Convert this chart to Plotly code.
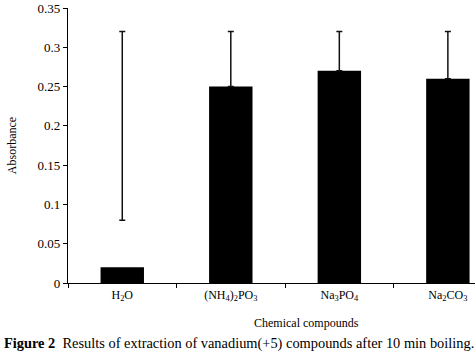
import plotly.graph_objects as go

categories = ["H<sub>2</sub>O", "(NH<sub>4</sub>)<sub>2</sub>PO<sub>3</sub>", "Na<sub>3</sub>PO<sub>4</sub>", "Na<sub>2</sub>CO<sub>3</sub>"]
absorbance = [0.02, 0.25, 0.27, 0.26]
err_plus = [0.30, 0.07, 0.05, 0.06]
err_minus = [-0.06, 0, 0, 0]
y_ticks = [0, 0.05, 0.1, 0.15, 0.2, 0.25, 0.3, 0.35]

font_family = "Liberation Serif"

fig = go.Figure()
fig.add_trace(go.Bar(
    x=categories, y=absorbance,
    marker=dict(color="black", line=dict(width=0)),
    width=0.4,
    error_y=dict(type="data", symmetric=False, array=err_plus, arrayminus=err_minus,
                 color="#111", thickness=1.5, width=3),
))

fig.update_layout(
    width=475, height=357,
    margin=dict(l=68, r=0, t=8, b=74),
    plot_bgcolor="white", paper_bgcolor="white",
    showlegend=False,
    font=dict(family=font_family, size=12, color="black"),
    xaxis=dict(
        type="category", tickson="boundaries", ticks="outside", ticklen=4,
        tickcolor="black", showline=True, linecolor="black", linewidth=1.2,
        showgrid=False, range=[-0.5, 3.25], tickfont=dict(size=12),
    ),
    yaxis=dict(
        range=[0, 0.35], tickvals=y_ticks, ticks="outside", ticklen=4,
        tickcolor="black", showline=True, linecolor="black", linewidth=1.2,
        showgrid=False, zeroline=False, tickfont=dict(size=13),
        ticklabeloverflow="allow",
        title=dict(text="Absorbance", font=dict(size=12), standoff=18),
    ),
    annotations=[
        dict(text="Chemical compounds", xref="paper", yref="paper", x=0.587, y=-0.145,
             xanchor="center", yanchor="middle", showarrow=False, font=dict(size=12)),
        dict(text="<b>Figure 2</b>  Results of extraction of vanadium(+5) compounds after 10 min boiling.",
             xref="paper", yref="paper", x=-0.163, y=-0.22, xanchor="left", yanchor="middle",
             showarrow=False, font=dict(size=14.4, family="Liberation Serif")),
    ],
)

fig.write_html("out.html", config={"displayModeBar": False},
               post_script="document.body.style.margin='0';")
